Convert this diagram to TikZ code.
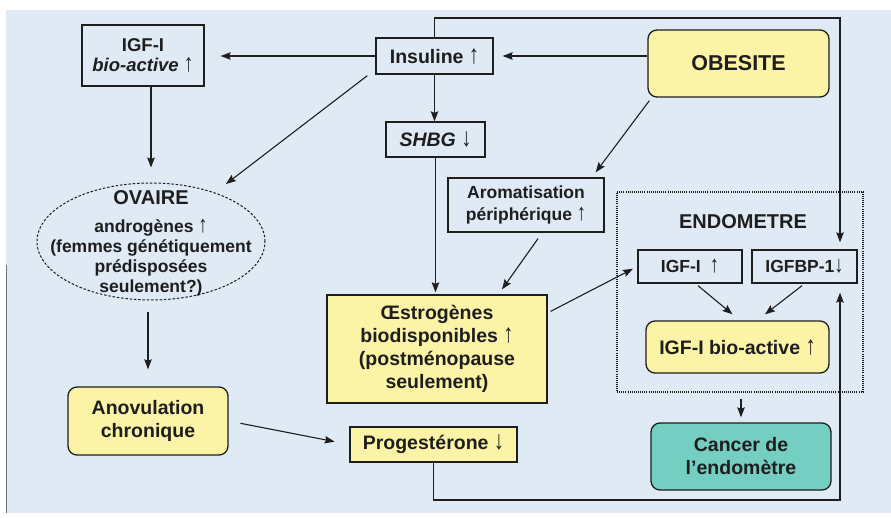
\documentclass[tikz,border=0pt]{standalone}
\usepackage{fontspec}
\usepackage{graphicx}
\setmainfont{Liberation Sans}
\usetikzlibrary{arrows.meta,calc,shapes.geometric}
\definecolor{bg}{HTML}{DFEAF5}
\definecolor{yel}{HTML}{FBF4A6}
\definecolor{tealc}{HTML}{74CFC2}
\definecolor{ink}{HTML}{1E1E1E}
\newcommand{\uarr}{\scalebox{1.05}[1.35]{↑}}
\newcommand{\darr}{\scalebox{1.05}[1.35]{↓}}
\begin{document}
\begin{tikzpicture}[x=1pt,y=-1pt,
  every node/.style={text=ink},
  bx/.style={draw=ink,line width=1.3pt,fill=bg,inner sep=0pt,align=center,
    font=\bfseries\fontsize{19.5}{23}\selectfont},
  sm/.style={font=\bfseries\fontsize{17.5}{20}\selectfont},
  ybx/.style={bx,fill=yel},
  rnd/.style={rounded corners=9pt},
  conn/.style={draw=ink,line width=1.1pt,-{Stealth[length=10pt,width=7.5pt,inset=1.5pt]}},
]
\useasboundingbox (0,0) rectangle (891,518);
\fill[white] (0,0) rectangle (891,518);
\fill[bg] (6,10) rectangle (891,513);
\draw[black!55,line width=1pt] (6,265) -- (6,513);

% nodes
\node[bx,minimum width=122pt,minimum height=61pt,font=\bfseries\fontsize{18.5}{20.5}\selectfont] (igf) at (143,55.5) {IGF-I\\\textit{bio-active} \uarr};
\node[bx,minimum width=117pt,minimum height=36pt] (ins) at (434.5,56) {Insuline \uarr};
\node[ybx,rnd,minimum width=181pt,minimum height=67pt,font=\bfseries\fontsize{21.5}{24}\selectfont] (obes) at (738.5,63.5) {OBESITE};
\node[bx,minimum width=99pt,minimum height=35pt] (shbg) at (435.5,139.5) {\textit{SHBG} \darr};
\node[ellipse,draw=ink,line width=1pt,dash pattern=on 2.5pt off 1.8pt,minimum width=228pt,minimum height=117pt,inner sep=0pt] (ovaire) at (151,241.5) {};
\node[sm,align=center] (ovtxt) at (151,243) {{\fontsize{20}{20}\selectfont OVAIRE}\\[8pt]androgènes \uarr\\(femmes génétiquement\\prédisposées\\seulement?)};
\node[bx,minimum width=156pt,minimum height=54pt,font=\bfseries\fontsize{17.5}{22}\selectfont] (arom) at (526,205) {Aromatisation\\périphérique \uarr};
\node[ybx,minimum width=220pt,minimum height=108pt] (oest) at (437,349) {Œstrogènes\\biodisponibles \uarr\\(postménopause\\seulement)};
\node[draw=ink,line width=1.8pt,dash pattern=on 1pt off 1.1pt,minimum width=246pt,minimum height=200pt,inner sep=0pt] (endo) at (740,292) {};
\node[font=\bfseries\fontsize{20}{24}\selectfont] (endolbl) at (743,222) {ENDOMETRE};
\node[bx,sm,minimum width=104pt,minimum height=33pt] (igfe) at (690,266.5) {IGF-I\hspace{9pt}\uarr};
\node[bx,sm,minimum width=105pt,minimum height=33pt] (igfbp) at (804.5,266.5) {IGFBP-1\darr};
\node[ybx,rnd,minimum width=183pt,minimum height=52pt] (bioe) at (737.5,347) {IGF-I bio-active \uarr};
\node[bx,rnd,fill=tealc,minimum width=180pt,minimum height=67pt] (cancer) at (741,456.5) {Cancer de\\l’endomètre};
\node[ybx,rnd,minimum width=160pt,minimum height=68pt] (anov) at (148,421) {Anovulation\\chronique};
\node[ybx,minimum width=167pt,minimum height=35pt] (prog) at (433.5,444.5) {Progestérone \darr};

\coordinate (fbtop) at (840,18);
\coordinate (fbbot) at (840,500);

% connectors
\draw[conn,shorten >=16pt] (ins.west) -- (igf.east |- ins.west);
\draw[conn] (ins.south) -- (ins.south |- shbg.north);
\draw[conn,shorten >=9pt] (obes.west |- ins.east) -- (ins.east);
\draw[conn,shorten >=14pt] ($(ins.south west)+(-8,1)$) -- (ovaire);
\draw[conn,shorten >=15pt] (ovaire.north |- igf.south) -- (ovaire.north);
\draw[conn,shorten <=12pt,shorten >=17pt] (anov.north |- ovaire.south) -- (anov.north);
\draw[conn,shorten <=12pt,shorten >=15pt] (anov.east) -- (prog.west);
\draw[conn,shorten >=2pt] (shbg.south) -- (shbg.south |- oest.north);
\draw[conn] ($(obes.south west)+(2,3)$) -- ($(arom.north east)+(-9,-5)$);
\draw[conn] ($(arom.south)+(12,6)$) -- ($(oest.north)+(65,-5)$);
\draw[conn,shorten >=5pt] ($(oest.north east)+(3,17)$) -- (igfe.west);
\draw[conn,shorten >=7pt] (ins.north) |- (fbtop) -- (fbtop |- igfbp.north);
\draw[conn,shorten >=9pt] (prog.south) |- (fbbot) -- (fbbot |- igfbp.south);
\draw[conn] ($(igfe.south)+(8,2)$) -- ($(bioe.north)+(-5,-6)$);
\draw[conn] ($(igfbp.south)+(-2.5,2)$) -- ($(bioe.north)+(27.5,-6)$);
\draw[conn,shorten <=6pt,shorten >=5pt] (cancer.north |- endo.south) -- (cancer.north);
\end{tikzpicture}
\end{document}
